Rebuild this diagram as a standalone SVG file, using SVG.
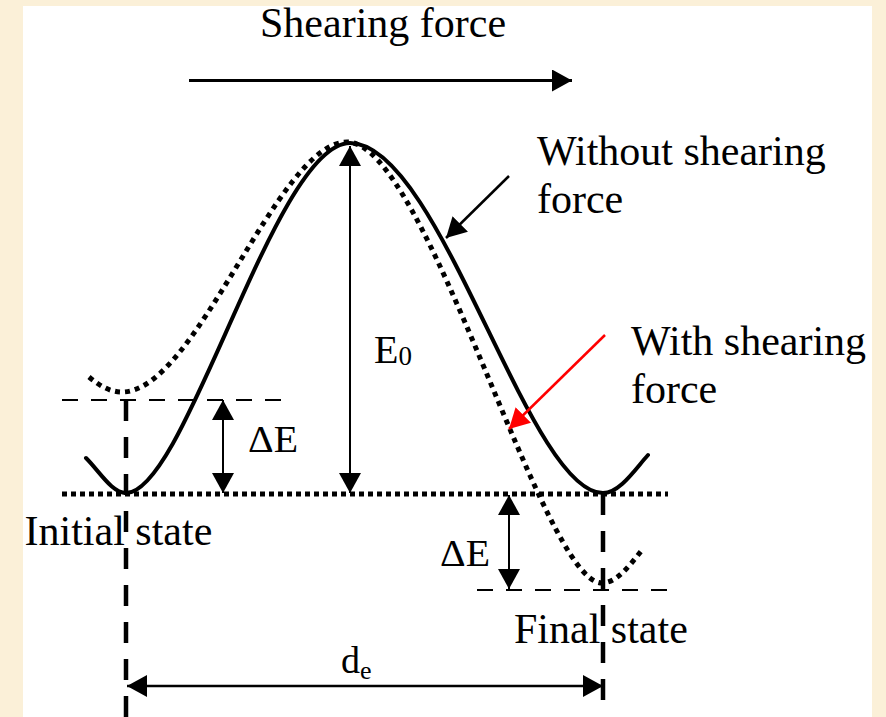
<svg xmlns="http://www.w3.org/2000/svg" width="886" height="717" viewBox="0 0 886 717">
  <style>
    .lbl { font-family: "Liberation Serif", "Times New Roman", serif; font-size: 42px; fill: #000; }
    .sym { font-family: "Liberation Serif", "Times New Roman", serif; fill: #000; }
    .solid { fill: none; stroke: #000; stroke-width: 4; stroke-linecap: round; }
    .dotted { fill: none; stroke: #000; stroke-width: 5; stroke-dasharray: 5 5; }
    .hdot { fill: none; stroke: #000; stroke-width: 5; stroke-dasharray: 5 4; }
    .hdash { fill: none; stroke: #000; stroke-width: 2.2; stroke-dasharray: 16 13; }
    .vdash { fill: none; stroke: #000; stroke-width: 4.5; stroke-dasharray: 21 16; }
    .arr { fill: none; stroke: #000; stroke-width: 2; }
  </style>
  <defs>
    <marker id="ah" viewBox="0 0 20 22" markerWidth="20" markerHeight="22" refX="20" refY="11" markerUnits="userSpaceOnUse" orient="auto-start-reverse">
      <path d="M0,0 L20,11 L0,22 z" fill="#000"/>
    </marker>
    <marker id="ahr" viewBox="0 0 20 22" markerWidth="20" markerHeight="22" refX="20" refY="11" markerUnits="userSpaceOnUse" orient="auto-start-reverse">
      <path d="M0,0 L20,11 L0,22 z" fill="#ff0000"/>
    </marker>
  </defs>

  <rect x="0" y="0" width="886" height="717" fill="#fbf0d8"/>
  <rect x="23" y="6" width="849" height="711" fill="#ffffff"/>

  <g id="guides">
    <path class="hdot" d="M62,494 H668"/>
    <path class="hdash" d="M62,400 H288"/>
    <path class="hdash" d="M477,590 H668"/>
    <path class="vdash" d="M126,400 V717"/>
    <path class="vdash" d="M603,494 V701"/>
  </g>

  <g id="curve-without">
    <path class="solid" d="M86,458 C100,472 112,493 126,493 C186,493 275,143 350,143 C440,143 528,493 603,493 C620,493 636,468 648,455"/>
  </g>
  <g id="curve-with">
    <path class="dotted" d="M89,377 C100,386 110,392 122,392 C197,392 277,142 347,142 C427,142 542,583 602,583 C617,583 630,565 642,550"/>
  </g>

  <g id="connectors">
    <path class="arr" style="stroke-width:3" d="M189,80.5 H572" marker-end="url(#ah)"/>
    <path class="arr" d="M350,146 V493" marker-start="url(#ah)" marker-end="url(#ah)"/>
    <path class="arr" d="M223,400 V493" marker-start="url(#ah)" marker-end="url(#ah)"/>
    <path class="arr" d="M509,495 V589" marker-start="url(#ah)" marker-end="url(#ah)"/>
    <path class="arr" style="stroke-width:2.5" d="M127,686 H603" marker-start="url(#ah)" marker-end="url(#ah)"/>
    <path class="arr" style="stroke-width:2.5" d="M509,176 L446,238" marker-end="url(#ah)"/>
    <path class="arr" style="stroke:#ff0000;stroke-width:2.5" d="M605,335 L509,429" marker-end="url(#ahr)"/>
  </g>

  <g id="label-shearing-force"><text class="lbl" x="260" y="37">Shearing force</text></g>
  <g id="label-without">
    <text class="lbl" x="537" y="165">Without shearing</text>
    <text class="lbl" x="537" y="213">force</text>
  </g>
  <g id="label-with">
    <text class="lbl" x="631" y="355">With shearing</text>
    <text class="lbl" x="631" y="403">force</text>
  </g>
  <g id="label-e0"><text class="sym" x="374" y="363" font-size="40">E<tspan font-size="27" dy="2">0</tspan></text></g>
  <g id="label-de-left"><text class="sym" x="248" y="452" font-size="38" textLength="50" lengthAdjust="spacingAndGlyphs">ΔE</text></g>
  <g id="label-de-right"><text class="sym" x="440" y="566" font-size="38" textLength="50" lengthAdjust="spacingAndGlyphs">ΔE</text></g>
  <g id="label-initial"><text class="lbl" x="24.5" y="545">Initial state</text></g>
  <g id="label-final"><text class="lbl" x="514" y="643">Final state</text></g>
  <g id="label-distance"><text class="sym" x="341" y="673" font-size="38">d<tspan font-size="26" dy="6">e</tspan></text></g>
</svg>
